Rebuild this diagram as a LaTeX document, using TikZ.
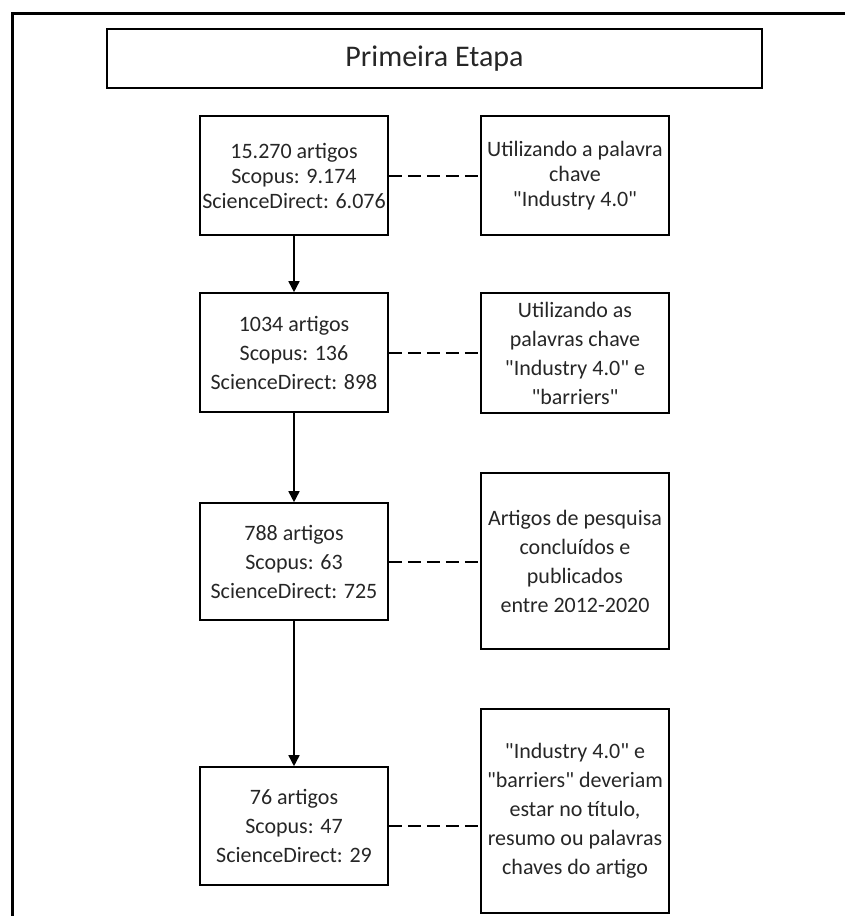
\documentclass[tikz,border=0pt]{standalone}
\usepackage{fontspec}
\setmainfont{Carlito}
\usetikzlibrary{arrows.meta}

\begin{document}
\begin{tikzpicture}[x=1pt, y=-1pt,
  caixa/.style={draw, line width=1.6pt, align=center, inner sep=0pt,
    minimum width=188pt, text=black!85, font=\fontsize{22}{29}\selectfont},
  seta/.style={line width=1.6pt, -{Triangle[length=11pt, width=11pt]}},
  tracejado/.style={line width=2pt, dash pattern=on 13pt off 6pt}]
\useasboundingbox (0,0) rectangle (845,916);
% moldura
\draw [line width=3pt] (12,916) -- (12,13) -- (845,13);
% titulo
\node (titulo) at (434.5,58.5) [caixa, minimum width=655pt, minimum height=59pt,
  font=\fontsize{30}{36}\selectfont] {Primeira Etapa};
% coluna da esquerda
\node (l1) at (294,175.5) [caixa, minimum height=119pt, font=\fontsize{22}{25}\selectfont]
  {15.270 artigos\\Scopus: 9.174\\ScienceDirect: 6.076};
\node (l2) at (294,352.5) [caixa, minimum height=119pt]
  {1034 artigos\\Scopus: 136\\ScienceDirect: 898};
\node (l3) at (294,561.5) [caixa, minimum height=117pt]
  {788 artigos\\Scopus: 63\\ScienceDirect: 725};
\node (l4) at (294,826) [caixa, minimum height=118pt]
  {76 artigos\\Scopus: 47\\ScienceDirect: 29};
% coluna da direita
\node (r1) at (575,175.5) [caixa, minimum height=119pt, font=\fontsize{22}{25}\selectfont]
  {Utilizando a palavra\\chave\\\textquotedbl Industry 4.0\textquotedbl};
\node (r2) at (575,353) [caixa, minimum height=120pt]
  {Utilizando as\\palavras chave\\\textquotedbl Industry 4.0\textquotedbl{} e\\\textquotedbl barriers\textquotedbl};
\node (r3) at (575,561) [caixa, minimum height=176pt]
  {Artigos de pesquisa\\conclu\'idos e\\publicados\\entre 2012-2020};
\node (r4) at (575,811) [caixa, minimum height=204pt]
  {\textquotedbl Industry 4.0\textquotedbl{} e\\\textquotedbl barriers\textquotedbl{} deveriam\\estar no t\'itulo,\\resumo ou palavras\\chaves do artigo};
% setas
\draw [seta] (l1) -- (l2);
\draw [seta] (l2) -- (l3);
\draw [seta] (l3) -- (l4);
% ligacoes
\draw [tracejado] (l1.east) -- (l1.east -| r1.west);
\draw [tracejado] (l2.east) -- (l2.east -| r2.west);
\draw [tracejado] (l3.east) -- (l3.east -| r3.west);
\draw [tracejado] (l4.east) -- (l4.east -| r4.west);
\end{tikzpicture}
\end{document}
